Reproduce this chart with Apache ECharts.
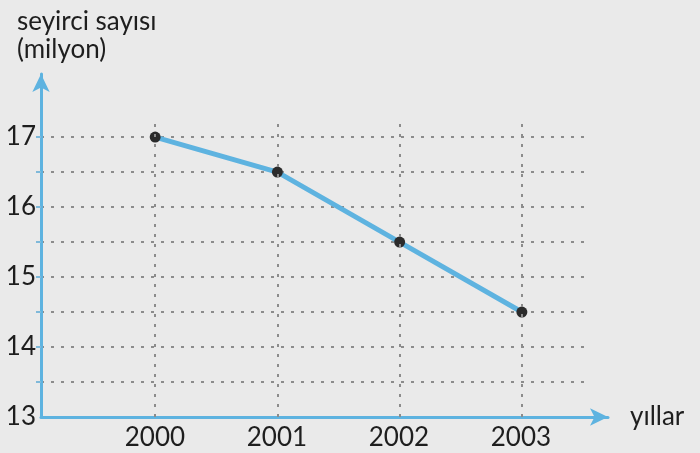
<!DOCTYPE html>
<html>
<head>
<meta charset="utf-8">
<script src="https://cdn.jsdelivr.net/npm/echarts@6/dist/echarts.min.js"></script>
<style>
  html, body { margin: 0; padding: 0; background: #eaeaea; }
  #chart { width: 700px; height: 453px; }
</style>
</head>
<body>
<div id="chart"></div>
<script>
// veriler
const years = [2000, 2001, 2002, 2003]
const viewers = [17, 16.5, 15.5, 14.5]
const yLabels = [13, 14, 15, 16, 17]
const yTicks = [13.5, 14, 14.5, 15, 15.5, 16, 16.5, 17]

const chart = echarts.init(document.getElementById('chart'))
const font = 'Lato, "Noto Sans", sans-serif'
const blue = '#5eb3e0'
const dotted = { color: '#8c8c8c', width: 2, type: [3, 7] }

chart.setOption({
  backgroundColor: '#eaeaea',
  title: {
    text: 'seyirci sayısı\n(milyon)',
    left: 12,
    top: 3,
    textStyle: { fontFamily: font, fontSize: 26, fontWeight: 'normal', color: '#1e1e1e', lineHeight: 28 }
  },
  grid: [
    // veri ve ızgara
    { left: 41, right: 112, top: 121, bottom: 36 },
    // eksen çizgileri ve etiketler
    { left: 41, right: 92, top: 74, bottom: 36 }
  ],
  xAxis: [
    {
      gridIndex: 0, type: 'value', min: 1999.066, max: 2003.541,
      axisLine: { show: false }, axisTick: { show: false }, axisLabel: { show: false }, splitLine: { show: false }
    },
    {
      gridIndex: 1, type: 'value', min: 1999.066, max: 2003.714,
      name: 'yıllar', nameLocation: 'end', nameGap: 22,
      nameTextStyle: { fontFamily: font, fontSize: 26, color: '#1e1e1e', padding: [0, 0, 8, 0] },
      axisLine: { lineStyle: { color: blue, width: 3 }, symbol: ['none', 'arrow'], symbolSize: [13, 18] },
      axisTick: { show: false },
      axisLabel: {
        customValues: years, margin: 8, fontFamily: font, fontSize: 26, color: '#1e1e1e',
        formatter: (v) => String(v)
      },
      splitLine: { show: false }
    }
  ],
  yAxis: [
    {
      gridIndex: 0, type: 'value', min: 13, max: 17.23, interval: 0.5,
      axisLine: { show: false }, axisTick: { show: false }, axisLabel: { show: false },
      splitLine: { show: true, showMinLine: false, showMaxLine: false, lineStyle: dotted }
    },
    {
      gridIndex: 1, type: 'value', min: 13, max: 17.9,
      axisLine: { lineStyle: { color: blue, width: 3 }, symbol: ['none', 'arrow'], symbolSize: [13, 18] },
      axisTick: { show: true, customValues: yTicks, length: 5, lineStyle: { color: '#7fb9da', width: 2 } },
      axisLabel: {
        customValues: yLabels, margin: 5, fontFamily: font, fontSize: 26, color: '#1e1e1e',
        formatter: (v) => String(v)
      },
      splitLine: { show: false }
    }
  ],
  series: [
    {
      // dikey ızgara çizgileri
      type: 'line', xAxisIndex: 0, yAxisIndex: 0, z: 1, data: [],
      markLine: {
        silent: true, symbol: 'none', label: { show: false },
        lineStyle: dotted,
        data: years.map((y) => ({ xAxis: y }))
      }
    },
    {
      type: 'line', xAxisIndex: 0, yAxisIndex: 0, z: 3,
      data: years.map((y, i) => [y, viewers[i]]),
      lineStyle: { color: blue, width: 5 },
      symbol: 'circle', symbolSize: 11,
      itemStyle: { color: '#2b2b2b', borderWidth: 0 }
    }
  ]
})
</script>
</body>
</html>
